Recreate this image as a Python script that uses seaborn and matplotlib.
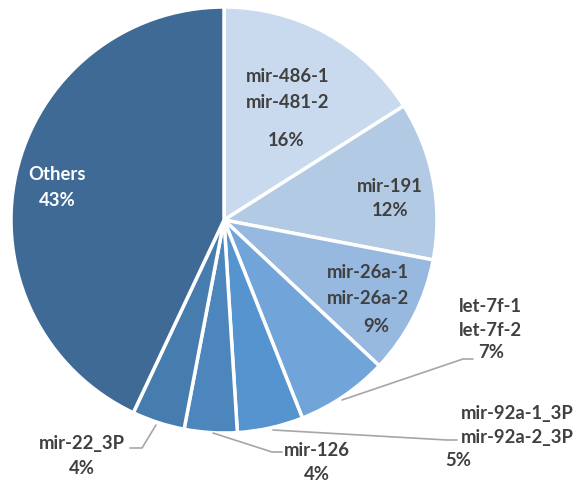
import matplotlib
matplotlib.use("Agg")
import matplotlib.pyplot as plt
import seaborn as sns

sns.set_theme(style="white")
plt.rcParams["font.family"] = ["Lato", "DejaVu Sans"]

# Share of reads per miRNA group
labels = ["mir-486-1\nmir-481-2", "mir-191", "mir-26a-1\nmir-26a-2", "let-7f-1\nlet-7f-2",
          "mir-92a-1_3P\nmir-92a-2_3P", "mir-126", "mir-22_3P", "Others"]
shares = [16, 12, 9, 7, 5, 4, 4, 43]
colors = ["#C9D9EE", "#B3CAE5", "#97B9E0", "#71A5D9", "#5594CE", "#4C86BD", "#477CAF", "#3F6A96"]

W, H = 585, 487
fig = plt.figure(figsize=(W / 100, H / 100), dpi=100)
ax = fig.add_axes([0, 0, 1, 1])

cx, cy, r = 224, 220, 213
# y axis is inverted, so counterclockwise in data space runs clockwise on screen
ax.pie(shares, colors=colors, startangle=-90, counterclock=True,
       center=(cx, cy), radius=r, frame=True,
       wedgeprops=dict(edgecolor="white", linewidth=2.5))
ax.set_xlim(0, W)
ax.set_ylim(H, 0)
ax.set_aspect("equal")
ax.axis("off")

txt = "#404040"
fs = 13.3

def put(x, y, s, color=txt, ha="center"):
    ax.text(x, y, s, ha=ha, va="center", fontsize=fs, fontweight="bold", color=color)

put(288, 77, labels[0].split("\n")[0])
put(288, 102, labels[0].split("\n")[1])
put(286, 140, f"{shares[0]}%")

put(390, 187, labels[1])
put(390, 211, f"{shares[1]}%")

put(368, 272, labels[2].split("\n")[0])
put(368, 298, labels[2].split("\n")[1])
put(376, 326, f"{shares[2]}%")

put(490, 306, labels[3].split("\n")[0])
put(490, 331, labels[3].split("\n")[1])
put(491, 353, f"{shares[3]}%")

put(517, 413, labels[4].split("\n")[0])
put(517, 438, labels[4].split("\n")[1])
put(458, 460, f"{shares[4]}%")

put(317, 450, labels[5])
put(317, 475, f"{shares[5]}%")

put(82, 443, labels[6])
put(82, 468, f"{shares[6]}%")

put(57, 174, labels[7], color="white")
put(57, 200, f"{shares[7]}%", color="white")

# leader lines for the small outer slices
lc = "#A6A6A6"
ax.plot([342, 463, 473], [400, 359, 359], color=lc, lw=1.2)
ax.plot([273, 447, 457], [430, 440, 440], color=lc, lw=1.2)
ax.plot([213, 272, 282], [433, 452, 452], color=lc, lw=1.2)
ax.plot([156, 142, 130], [425, 448, 448], color=lc, lw=1.2)

fig.savefig("out.png", dpi=100, facecolor="white")
